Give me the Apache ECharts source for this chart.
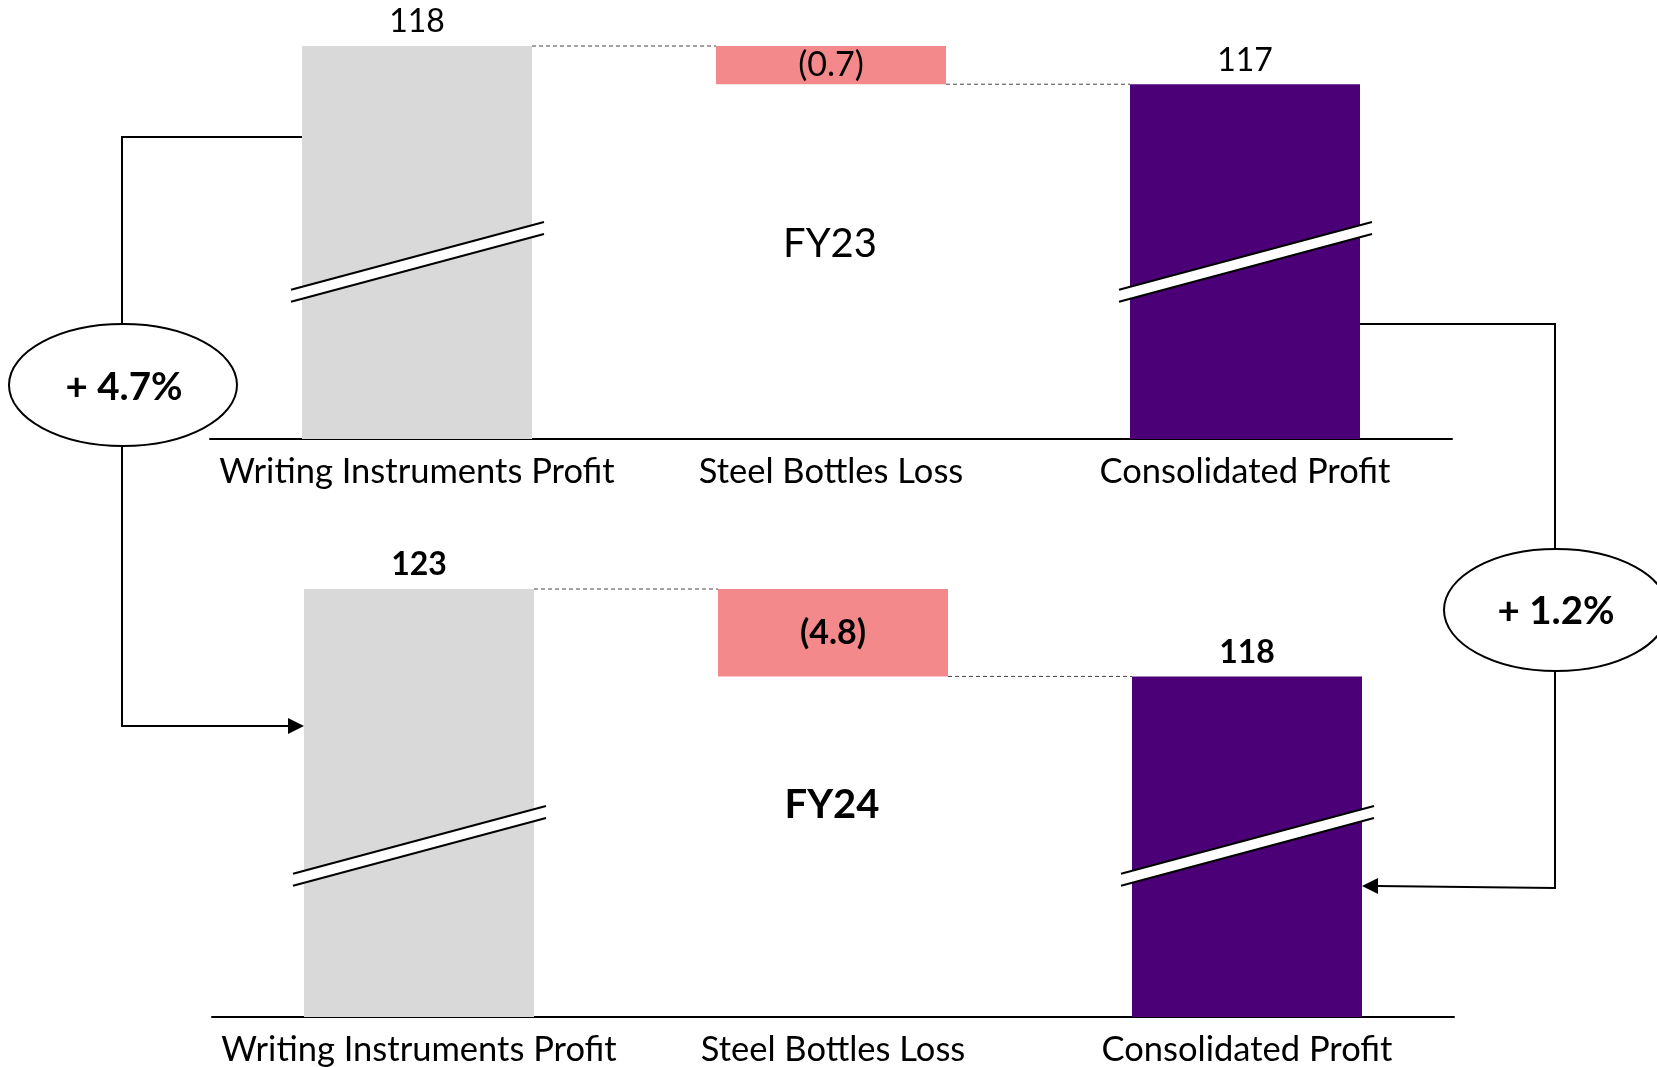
<!DOCTYPE html>
<html>
<head>
<meta charset="utf-8">
<script src="https://cdn.jsdelivr.net/npm/echarts@6/dist/echarts.min.js"></script>
<style>
  html, body { margin: 0; padding: 0; background: #ffffff; }
  #chart { width: 1657px; height: 1067px; }
</style>
</head>
<body>
<div id="chart"></div>
<script>
// Profit bridge: writing instruments profit, less steel bottles loss, gives consolidated profit
const categories = ['Writing Instruments Profit', 'Steel Bottles Loss', 'Consolidated Profit'];
const years = ['FY23', 'FY24'];
const writingProfit = [118, 123];
const bottlesLoss = [0.7, 4.8];
const consolidatedProfit = [117.3, 118.2];
const growthLabels = ['+ 4.7%', '+ 1.2%'];

const FONT = 'Lato, "Open Sans", sans-serif';
const GREY = '#D9D9D9';
const PINK = '#F4898C';
const PURPLE = '#4B0078';
const BAR_W = 230;

// one grid per year; the value axis is cut (broken) so the small loss stays visible
const panels = [
  { top: 46, height: 393, left: 210, axisMin: 110.8, bold: false, breakOffset: 177, captionY: 244 },
  { top: 589, height: 428, left: 212, axisMin: 99.5, bold: true, breakOffset: 171, captionY: 805 }
];

const grids = [], xAxes = [], yAxes = [], series = [];
panels.forEach((p, i) => {
  grids.push({ left: p.left, width: 1242, top: p.top, height: p.height });
  xAxes.push({
    type: 'category', gridIndex: i, data: categories,
    axisLine: { lineStyle: { color: '#000', width: 2 } },
    axisTick: { show: false },
    axisLabel: { color: '#000', fontFamily: FONT, fontSize: 34.5, margin: 15, interval: 0 }
  });
  yAxes.push({
    type: 'value', gridIndex: i, min: p.axisMin, max: writingProfit[i], show: false,
    splitLine: { show: false }
  });
  const weight = p.bold ? 'bold' : 'normal';
  const topLabel = {
    show: true, position: 'top', distance: 8, color: '#000',
    fontFamily: FONT, fontSize: 32, fontWeight: weight,
    formatter: (d) => String(Math.round(d.value))
  };
  series.push({
    name: 'Writing Instruments ' + years[i], type: 'bar', xAxisIndex: i, yAxisIndex: i,
    barWidth: BAR_W, barGap: '-100%',
    data: [writingProfit[i], '-', '-'],
    itemStyle: { color: GREY }, label: topLabel, silent: true
  });
  series.push({
    name: 'base ' + years[i], type: 'bar', xAxisIndex: i, yAxisIndex: i, stack: 'bridge' + i,
    barWidth: BAR_W, barGap: '-100%',
    data: ['-', consolidatedProfit[i], '-'],
    itemStyle: { color: 'rgba(0,0,0,0)' }, silent: true
  });
  series.push({
    name: 'Steel Bottles ' + years[i], type: 'bar', xAxisIndex: i, yAxisIndex: i, stack: 'bridge' + i,
    barWidth: BAR_W, barGap: '-100%',
    data: ['-', bottlesLoss[i], '-'],
    itemStyle: { color: PINK },
    label: {
      show: true, position: 'inside', color: '#000',
      fontFamily: FONT, fontSize: 34, fontWeight: weight,
      formatter: (d) => '(' + Number(d.value).toFixed(1) + ')'
    },
    silent: true
  });
  series.push({
    name: 'Consolidated ' + years[i], type: 'bar', xAxisIndex: i, yAxisIndex: i,
    barWidth: BAR_W, barGap: '-100%',
    data: ['-', '-', consolidatedProfit[i]],
    itemStyle: { color: PURPLE }, label: topLabel, silent: true
  });
});

const chart = echarts.init(document.getElementById('chart'));
chart.setOption({
  animation: false,
  backgroundColor: '#ffffff',
  grid: grids, xAxis: xAxes, yAxis: yAxes, series: series
});

// pixel helpers built on the chart's own scales
function px(i, cat, value) {
  return chart.convertToPixel({ xAxisIndex: i, yAxisIndex: i }, [cat, value]);
}
function bar(i, cat, value) {
  const [cx, cy] = px(i, cat, value);
  return { cx: cx, left: cx - BAR_W / 2, right: cx + BAR_W / 2, y: cy };
}

const LINE = { stroke: '#000', lineWidth: 2, fill: null };
const DASH = { stroke: '#444', lineWidth: 1, lineDash: [4, 3], fill: null };
const graphics = [];

panels.forEach((p, i) => {
  const wi = bar(i, 0, writingProfit[i]);
  const loss = bar(i, 1, consolidatedProfit[i]);
  const cons = bar(i, 2, consolidatedProfit[i]);
  const lossTop = bar(i, 1, writingProfit[i]);
  // dashed step connectors
  graphics.push({ type: 'line', shape: { x1: wi.right, y1: wi.y, x2: lossTop.left, y2: wi.y }, style: DASH, z: 5 });
  graphics.push({ type: 'line', shape: { x1: loss.right, y1: loss.y, x2: cons.left, y2: loss.y }, style: DASH, z: 5 });

  // slanted double break marks across the tall bars
  const axisY = px(i, 0, p.axisMin)[1];
  const yc = axisY - p.breakOffset;
  const slope = 0.268;
  [wi, cons].forEach((b) => {
    const x0 = b.left - 11, x1 = b.right + 12;
    const yu = (x) => yc - 6 - slope * (x - b.cx);
    const yl = (x) => yc + 6 - slope * (x - b.cx);
    graphics.push({ type: 'polygon', shape: { points: [[x0, yu(x0)], [x1, yu(x1)], [x1, yl(x1)], [x0, yl(x0)]] },
      style: { fill: '#fff' }, z: 10 });
    graphics.push({ type: 'line', shape: { x1: x0, y1: yu(x0), x2: x1, y2: yu(x1) }, style: LINE, z: 11 });
    graphics.push({ type: 'line', shape: { x1: x0, y1: yl(x0), x2: x1, y2: yl(x1) }, style: LINE, z: 11 });
  });

  // year caption in the middle of each panel
  graphics.push({
    type: 'text', z: 12,
    style: {
      text: years[i], x: lossTop.cx - 1, y: p.captionY,
      align: 'center', verticalAlign: 'middle', fill: '#000',
      font: (p.bold ? 'bold ' : '') + '40px ' + FONT
    }
  });
});

// year-on-year growth callouts
const wiTop = bar(0, 0, writingProfit[0]);
const wiBottom = bar(1, 0, writingProfit[1]);
const consTop = bar(0, 2, consolidatedProfit[0]);
const consBottom = bar(1, 2, consolidatedProfit[1]);

const leftX = 122, rightX = 1555;
graphics.push({ type: 'polyline', shape: { points: [[wiTop.left, 137], [leftX, 137], [leftX, 330]] }, style: LINE, z: 6 });
graphics.push({ type: 'polyline', shape: { points: [[leftX, 440], [leftX, 726], [wiBottom.left - 14, 726]] }, style: LINE, z: 6 });
graphics.push({ type: 'polygon', shape: { points: [[wiBottom.left, 726], [wiBottom.left - 16, 718], [wiBottom.left - 16, 734]] },
  style: { fill: '#000' }, z: 6 });
graphics.push({ type: 'ellipse', shape: { cx: 123, cy: 385, rx: 114, ry: 61 },
  style: { fill: '#fff', stroke: '#000', lineWidth: 2 }, z: 7 });
graphics.push({ type: 'text', z: 8, style: { text: growthLabels[0], x: 124, y: 388, align: 'center', verticalAlign: 'middle',
  fill: '#000', font: 'bold 38.5px ' + FONT } });

graphics.push({ type: 'polyline', shape: { points: [[consTop.right, 324], [rightX, 324], [rightX, 555]] }, style: LINE, z: 6 });
graphics.push({ type: 'polyline', shape: { points: [[rightX, 665], [rightX, 888], [consBottom.right + 14, 886]] }, style: LINE, z: 6 });
graphics.push({ type: 'polygon', shape: { points: [[consBottom.right, 886], [consBottom.right + 16, 878], [consBottom.right + 16, 894]] },
  style: { fill: '#000' }, z: 6 });
graphics.push({ type: 'ellipse', shape: { cx: rightX + 1, cy: 610, rx: 112, ry: 61 },
  style: { fill: '#fff', stroke: '#000', lineWidth: 2 }, z: 7 });
graphics.push({ type: 'text', z: 8, style: { text: growthLabels[1], x: rightX + 1, y: 612, align: 'center', verticalAlign: 'middle',
  fill: '#000', font: 'bold 38.5px ' + FONT } });

chart.setOption({ graphic: graphics });
</script>
</body>
</html>
